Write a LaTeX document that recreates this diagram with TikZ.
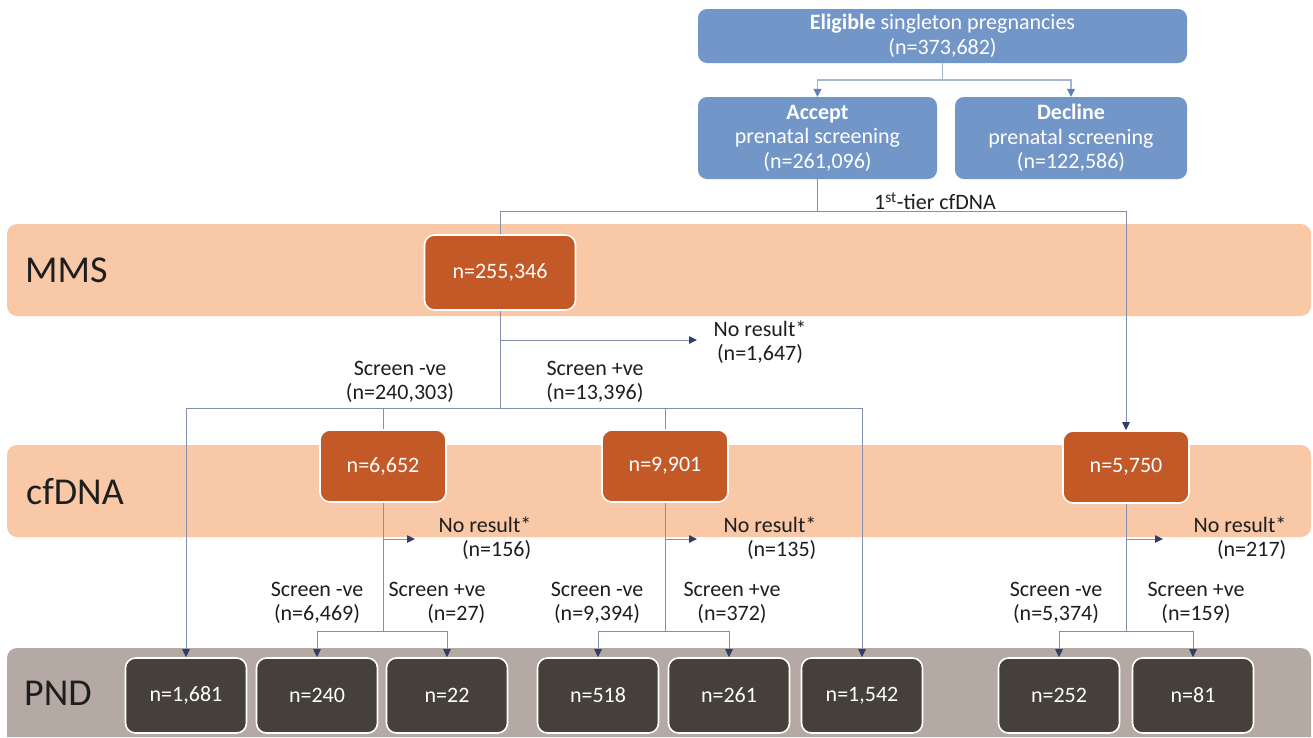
\documentclass[tikz,border=0pt]{standalone}
\usepackage{fontspec}
\setmainfont{Carlito}
\usetikzlibrary{arrows.meta}
\definecolor{bluef}{RGB}{115,150,200}
\definecolor{peach}{RGB}{249,200,166}
\definecolor{orangef}{RGB}{196,89,40}
\definecolor{pndband}{RGB}{180,170,163}
\definecolor{pndbox}{RGB}{70,64,58}
\definecolor{lineA}{RGB}{165,182,208}
\definecolor{tipA}{RGB}{95,128,182}
\definecolor{lineB}{RGB}{132,144,170}
\definecolor{tipB}{RGB}{48,62,105}
\definecolor{txt}{RGB}{30,30,30}
\begin{document}
\begin{tikzpicture}[x=1pt,y=-1pt,
 every node/.style={font=\fontsize{22}{24.5}\selectfont, text=txt},
 bluebox/.style={fill=bluef, rounded corners=9pt, text=white, align=center, inner sep=0pt},
 orbox/.style={fill=orangef, draw=white, line width=1.6pt, rounded corners=10pt, text=white, minimum width=126pt, minimum height=72pt, inner sep=0pt},
 pbox/.style={fill=pndbox, draw=white, line width=1.6pt, rounded corners=10pt, text=white, minimum width=121pt, minimum height=75pt, inner sep=0pt},
 lab/.style={align=center, inner sep=1pt},
 labr/.style={align=right, inner sep=1pt},
 bandlab/.style={font=\fontsize{38}{40}\selectfont, anchor=west, inner sep=0pt},
 topl/.style={draw=lineA, line width=1.1pt},
 topa/.style={topl, -{Triangle[length=8pt,width=8pt,color=tipA]}},
 lowl/.style={draw=lineB, line width=0.85pt},
 lowa/.style={lowl, -{Triangle[length=8pt,width=7.5pt,color=tipB]}},
]
\useasboundingbox (0,0) rectangle (1313,737);
\fill[white] (0,0) rectangle (1313,737);

% bands
\fill[peach, rounded corners=10pt] (7,224) rectangle (1311,316);
\fill[peach, rounded corners=10pt] (7,445) rectangle (1311,537);
\fill[pndband] (7,737) [rounded corners=10pt]-- (7,648) -- (1311,648) [sharp corners]-- (1311,737) -- cycle;
\node[bandlab] (lmms) at (25,270) {MMS};
\node[bandlab] (lcf) at (26,492) {cfDNA};
\node[bandlab] (lpnd) at (24,693) {PND};

% top boxes
\node[bluebox, minimum width=489pt, minimum height=54pt] (elig) at (942.5,36) {{\bfseries Eligible} singleton pregnancies\\(n=373,682)};
\node[bluebox, minimum width=239pt, minimum height=82pt] (acc) at (817.5,138) {{\bfseries Accept}\\prenatal screening\\(n=261,096)};
\node[bluebox, minimum width=232pt, minimum height=82pt] (dec) at (1071,138) {{\bfseries Decline}\\prenatal screening\\(n=122,586)};

% screening nodes
\node[orbox, minimum width=151pt, minimum height=75pt] (mms) at (500,272.5) {n=255,346};
\node[orbox] (c1) at (383,466) {n=6,652};
\node[orbox] (c2) at (665,466) {n=9,901};
\node[orbox] (c3) at (1126,467) {n=5,750};

% PND nodes
\node[pbox] (p1) at (186,695.5) {n=1,681};
\node[pbox] (p2) at (317,695.5) {n=240};
\node[pbox] (p3) at (447,695.5) {n=22};
\node[pbox] (p4) at (598,695.5) {n=518};
\node[pbox] (p5) at (729,695.5) {n=261};
\node[pbox] (p6) at (862,695.5) {n=1,542};
\node[pbox] (p7) at (1059,695.5) {n=252};
\node[pbox] (p8) at (1193,695.5) {n=81};

% labels
\node[lab, anchor=south] (tier) at (935,211) {1\textsuperscript{st}-tier cfDNA};
\node[lab] (nr1) at (760,342) {No result*\\(n=1,647)};
\node[lab] (sn1) at (400,382) {Screen -ve\\(n=240,303)};
\node[lab] (sp1) at (595,382) {Screen +ve\\(n=13,396)};
\node[labr] (nr2) at (485,538) {No result*\\(n=156)};
\node[lab] (sn2) at (317,603) {Screen -ve\\(n=6,469)};
\node[labr] (sp2) at (437,603) {Screen +ve\\(n=27)};
\node[labr] (nr3) at (770,538) {No result*\\(n=135)};
\node[lab] (sn3) at (597,603) {Screen -ve\\(n=9,394)};
\node[lab] (sp3) at (732,603) {Screen +ve\\(n=372)};
\node[labr] (nr4) at (1240,538) {No result*\\(n=217)};
\node[lab] (sn4) at (1056,603) {Screen -ve\\(n=5,374)};
\node[lab] (sp4) at (1196,603) {Screen +ve\\(n=159)};

% top connectors
\coordinate (j0) at (942.5,80);
\draw[topl] (elig.south) -- (j0);
\draw[topa] (j0) -| (acc.north);
\draw[topa] (j0) -| (dec.north);

\coordinate (j1) at (817.5,211);
\draw[lowl] (acc.south) -- (j1);
\draw[lowl] (j1) -| (mms.north);
\draw[lowa] (j1) -| (c3.north);

% MMS outcomes
\coordinate (j2) at (500,408);
\draw[lowl] (mms.south) -- (j2);
\coordinate (a1) at (500,340);
\coordinate (a1e) at (697,340);
\draw[lowa] (a1) -- (a1e);
\draw[lowa] (j2) -| (p1.north);
\draw[lowl] (j2) -| (c1.north);
\draw[lowl] (j2) -| (c2.north);
\draw[lowa] (j2) -| (p6.north);

% cfDNA outcomes
\coordinate (j3) at (383,631);
\draw[lowl] (c1.south) -- (j3);
\draw[lowa] (j3) -| (p2.north);
\draw[lowa] (j3) -| (p3.north);
\coordinate (a2) at (383,539);
\coordinate (a2e) at (415,539);
\draw[lowa] (a2) -- (a2e);

\coordinate (j4) at (665,631);
\draw[lowl] (c2.south) -- (j4);
\draw[lowa] (j4) -| (p4.north);
\draw[lowa] (j4) -| (p5.north);
\coordinate (a3) at (665,539);
\coordinate (a3e) at (697,539);
\draw[lowa] (a3) -- (a3e);

\coordinate (j5) at (1126,631);
\draw[lowl] (c3.south) -- (j5);
\draw[lowa] (j5) -| (p7.north);
\draw[lowa] (j5) -| (p8.north);
\coordinate (a4) at (1126,539);
\coordinate (a4e) at (1163,539);
\draw[lowa] (a4) -- (a4e);
\end{tikzpicture}
\end{document}
